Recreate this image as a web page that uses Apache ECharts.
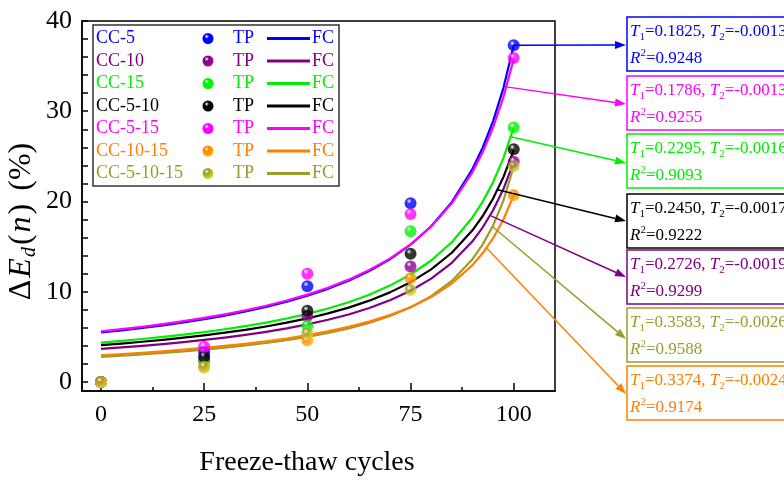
<!DOCTYPE html>
<html>
<head>
<meta charset="utf-8">
<script src="https://cdn.jsdelivr.net/npm/echarts@6/dist/echarts.min.js"></script>
<style>
  html, body { margin: 0; padding: 0; background: #fff; }
  #chart { width: 784px; height: 482px; }
</style>
</head>
<body>
<div id="chart"></div>
<script>
// Mix designs, in legend order
const mixNames  = ['CC-5', 'CC-10', 'CC-15', 'CC-5-10', 'CC-5-15', 'CC-10-15', 'CC-5-10-15'];
const mixColors = ['#0000ff', '#800080', '#00ee00', '#000000', '#ff00ff', '#ff7f00', '#9c9c2a'];

// Test points (TP): freeze-thaw cycles vs. loss of dynamic modulus (%)
const cycles = [0, 25, 50, 75, 100];
const tpCC5       = [0, 3.3, 10.6, 19.8, 37.3];
const tpCC10      = [0, 2.4, 7.3, 12.8, 24.4];
const tpCC15      = [0, 2.2, 6.2, 16.7, 28.2];
const tpCC5_10    = [0, 2.8, 7.9, 14.2, 25.8];
const tpCC5_15    = [0, 3.9, 12.0, 18.6, 35.9];
const tpCC10_15   = [0, 1.6, 4.6, 11.5, 20.7];
const tpCC5_10_15 = [0, 1.7, 5.4, 10.2, 23.9];

// Fitted curves (FC), sampled along the cycle axis
const fcCycles = [0, 5, 10, 15, 20, 25, 30, 35, 40, 45, 50, 55, 60, 65, 70, 75, 80, 85, 90, 92.5, 95, 97.5, 100];
const fcCC5       = [5.48, 5.72, 5.99, 6.28, 6.61, 6.96, 7.36, 7.81, 8.32, 8.89, 9.56, 10.32, 11.23, 12.30, 13.60, 15.21, 17.26, 19.93, 23.60, 25.98, 28.91, 32.57, 37.30];
const fcCC10      = [3.67, 3.83, 4.01, 4.20, 4.42, 4.66, 4.92, 5.22, 5.56, 5.94, 6.38, 6.89, 7.48, 8.19, 9.05, 10.11, 11.45, 13.21, 15.59, 17.14, 19.03, 21.38, 24.40];
const fcCC15      = [4.36, 4.55, 4.76, 4.99, 5.24, 5.53, 5.84, 6.19, 6.58, 7.03, 7.55, 8.14, 8.84, 9.67, 10.68, 11.91, 13.46, 15.49, 18.23, 19.99, 22.14, 24.81, 28.20];
const fcCC5_10    = [4.08, 4.26, 4.46, 4.67, 4.91, 5.17, 5.46, 5.78, 6.15, 6.57, 7.04, 7.60, 8.24, 9.01, 9.93, 11.06, 12.48, 14.32, 16.80, 18.39, 20.32, 22.70, 25.70];
const fcCC5_15    = [5.60, 5.85, 6.11, 6.41, 6.74, 7.10, 7.50, 7.95, 8.45, 9.03, 9.68, 10.45, 11.34, 12.40, 13.67, 15.24, 17.22, 19.79, 23.26, 25.49, 28.20, 31.55, 35.80];
const fcCC10_15   = [2.96, 3.10, 3.24, 3.40, 3.58, 3.77, 3.99, 4.23, 4.51, 4.82, 5.19, 5.61, 6.10, 6.69, 7.41, 8.29, 9.42, 10.91, 12.95, 14.29, 15.93, 18.01, 20.70];
const fcCC5_10_15 = [2.79, 2.92, 3.06, 3.22, 3.39, 3.58, 3.80, 4.04, 4.32, 4.63, 5.00, 5.43, 5.94, 6.55, 7.31, 8.27, 9.51, 11.20, 13.61, 15.25, 17.34, 20.10, 23.90];

// Fit parameters shown in the callout boxes
const fitT1 = ['0.1825', '0.2726', '0.2295', '0.2450', '0.1786', '0.3374', '0.3583'];
const fitT2 = ['-0.0013', '-0.0019', '-0.0016', '-0.0017', '-0.0013', '-0.0024', '-0.0026'];
const fitR2 = ['0.9248', '0.9299', '0.9093', '0.9222', '0.9255', '0.9174', '0.9588'];
// Point on each fitted curve where its callout arrow starts [cycles, value]
const calloutAnchorX = [100, 94.5, 99, 96.1, 98.2, 93.3, 94.9];
const calloutAnchorY = [37.3, 18.4, 27.2, 21.3, 32.7, 14.9, 17.2];

// Axis ticks
const xMajorTicks = [0, 25, 50, 75, 100];
const xMinorTicks = [12.5, 37.5, 62.5, 87.5];
const yLabelValues = [0, 10, 20, 30, 40];
const yTickValues = [0, 2, 4, 6, 8, 10, 12, 14, 16, 18, 20, 22, 24, 26, 28, 30, 32, 34, 36, 38, 40];

const tpSets = [tpCC5, tpCC10, tpCC15, tpCC5_10, tpCC5_15, tpCC10_15, tpCC5_10_15];
const fcSets = [fcCC5, fcCC10, fcCC15, fcCC5_10, fcCC5_15, fcCC10_15, fcCC5_10_15];

const SERIF = '"Liberation Serif", "Times New Roman", serif';

function ballFill(color) {
  return new echarts.graphic.RadialGradient(0.38, 0.32, 0.75, [
    { offset: 0, color: '#ffffff' },
    { offset: 0.28, color: color },
    { offset: 1, color: echarts.color.lift(color, -0.45) }
  ]);
}

const chart = echarts.init(document.getElementById('chart'), null, { renderer: 'canvas' });

const X_MIN = -4.6, X_MAX = 110, Y_MIN = -1, Y_MAX = 40;

// Curve drawing order: olive beneath orange, magenta above blue
const lineOrder = [0, 1, 2, 3, 4, 6, 5];
const series = [];
lineOrder.forEach(function (i) {
  series.push({
    type: 'line',
    name: mixNames[i] + ' FC',
    xAxisIndex: 0, yAxisIndex: 0,
    data: fcCycles.map(function (c, k) { return [c, fcSets[i][k]]; }),
    smooth: false,
    showSymbol: false,
    lineStyle: { color: mixColors[i], width: 2.2, join: 'round' },
    z: 2,
    silent: true
  });
});
mixNames.forEach(function (name, i) {
  series.push({
    type: 'scatter',
    name: name + ' TP',
    xAxisIndex: 0, yAxisIndex: 0,
    data: cycles.map(function (c, k) { return [c, tpSets[i][k]]; }),
    symbol: 'circle',
    symbolSize: 12,
    itemStyle: { color: ballFill(mixColors[i]), borderWidth: 0 },
    z: 5,
    silent: true
  });
});

chart.setOption({
  animation: false,
  backgroundColor: '#ffffff',
  grid: {
    left: 82, right: 229, top: 21, bottom: 91,
    show: true, borderColor: '#000', borderWidth: 1.5, backgroundColor: 'transparent'
  },
  xAxis: [{
    type: 'value', min: X_MIN, max: X_MAX, position: 'bottom',
    axisLine: { show: true, onZero: false, lineStyle: { color: '#000', width: 1.5 } },
    axisTick: { show: true, inside: true, length: 8, customValues: xMajorTicks, lineStyle: { color: '#000', width: 1.5 } },
    axisLabel: { show: true, customValues: xMajorTicks, color: '#000', fontFamily: SERIF, fontSize: 24, margin: 12 },
    splitLine: { show: false },
    name: 'Freeze-thaw cycles', nameLocation: 'middle', nameGap: 58,
    nameTextStyle: { color: '#000', fontFamily: SERIF, fontSize: 28, padding: [0, 23, 0, 0] }
  }, {
    type: 'value', min: X_MIN, max: X_MAX, position: 'bottom',
    axisLine: { show: false, onZero: false },
    axisTick: { show: true, inside: true, length: 4, customValues: xMinorTicks, lineStyle: { color: '#000', width: 1.5 } },
    axisLabel: { show: false },
    splitLine: { show: false }
  }],
  yAxis: [{
    type: 'value', min: Y_MIN, max: Y_MAX, position: 'left',
    axisLine: { show: true, onZero: false, lineStyle: { color: '#000', width: 1.5 } },
    axisTick: { show: true, inside: true, length: 6, customValues: yTickValues, lineStyle: { color: '#000', width: 1.5 } },
    axisLabel: { show: true, customValues: yLabelValues, color: '#000', fontFamily: SERIF, fontSize: 26, margin: 10 },
    splitLine: { show: false }
  }],
  series: series
});

// ---- overlay: y-axis title, legend panel, fit callouts ----
const graphics = [];

graphics.push({
  type: 'text', x: 22, y: 222, rotation: Math.PI / 2,
  style: {
    text: '{a|Δ}{i|E}{s|d}{a|(}{i|n}{a|)}{g|(%)}',
    fill: '#000', align: 'center', verticalAlign: 'middle',
    rich: {
      a: { fontFamily: SERIF, fontSize: 32, lineHeight: 36, verticalAlign: 'middle', padding: [0, 1, 0, 1] },
      g: { fontFamily: SERIF, fontSize: 32, lineHeight: 36, verticalAlign: 'middle', padding: [0, 0, 0, 12] },
      i: { fontFamily: SERIF, fontSize: 32, fontStyle: 'italic', lineHeight: 36, verticalAlign: 'middle', padding: [0, 1, 0, 1] },
      s: { fontFamily: SERIF, fontSize: 20, fontStyle: 'italic', lineHeight: 20, padding: [16, 1, 0, 0], verticalAlign: 'bottom' }
    }
  }
});

// legend panel
const LEG_X = 93, LEG_Y = 25, LEG_W = 246, LEG_H = 161, ROW0 = 38.5, ROW_H = 22.5;
graphics.push({
  type: 'rect', shape: { x: LEG_X, y: LEG_Y, width: LEG_W, height: LEG_H },
  style: { fill: '#fff', stroke: '#333', lineWidth: 1.5 }, z: 20
});
mixNames.forEach(function (name, i) {
  const cy = ROW0 + i * ROW_H;
  const col = mixColors[i];
  const txt = { fontFamily: SERIF, fontSize: 18, fill: col, verticalAlign: 'middle', align: 'left' };
  graphics.push({ type: 'text', x: 96, y: cy, z: 21, style: Object.assign({ text: name }, txt) });
  graphics.push({ type: 'circle', shape: { cx: 208, cy: cy, r: 5.5 }, style: { fill: ballFill(col) }, z: 21 });
  graphics.push({ type: 'text', x: 233, y: cy, z: 21, style: Object.assign({ text: 'TP' }, txt) });
  graphics.push({ type: 'line', shape: { x1: 267, y1: cy, x2: 310, y2: cy }, style: { stroke: col, lineWidth: 3 }, z: 21 });
  graphics.push({ type: 'text', x: 312, y: cy, z: 21, style: Object.assign({ text: 'FC' }, txt) });
});

// callout boxes, listed top to bottom by series index
const boxOrder = [0, 4, 2, 3, 1, 6, 5];
const boxTops = [17, 76, 134, 194, 250, 308, 366];
const arrowEndY = [45, 104, 163, 221, 277, 339, 394];
const BOX_X = 627, BOX_H = 54;

boxOrder.forEach(function (i, k) {
  const col = mixColors[i];
  const top = boxTops[k];
  graphics.push({
    type: 'rect', shape: { x: BOX_X, y: top, width: 200, height: BOX_H },
    style: { fill: '#fff', stroke: col, lineWidth: 1.5 }, z: 20
  });
  const rich = {
    n: { fontFamily: SERIF, fontSize: 17, lineHeight: 22, verticalAlign: 'middle', fill: col },
    i: { fontFamily: SERIF, fontSize: 17, fontStyle: 'italic', lineHeight: 22, verticalAlign: 'middle', fill: col },
    sb: { fontFamily: SERIF, fontSize: 11, lineHeight: 11, padding: [11, 0, 0, 0], verticalAlign: 'bottom', fill: col },
    sp: { fontFamily: SERIF, fontSize: 11, lineHeight: 11, padding: [0, 0, 10, 0], verticalAlign: 'top', fill: col }
  };
  graphics.push({
    type: 'text', x: 630, y: top + 15, z: 21,
    style: {
      text: '{i|T}{sb|1}{n|=' + fitT1[i] + ', }{i|T}{sb|2}{n|=' + fitT2[i] + '}',
      align: 'left', verticalAlign: 'middle', rich: rich
    }
  });
  graphics.push({
    type: 'text', x: 630, y: top + 42, z: 21,
    style: {
      text: '{i|R}{sp|2}{n|=' + fitR2[i] + '}',
      align: 'left', verticalAlign: 'middle', rich: rich
    }
  });

  // arrow from the fitted curve to the box
  const start = chart.convertToPixel({ xAxisIndex: 0, yAxisIndex: 0 }, [calloutAnchorX[i], calloutAnchorY[i]]);
  const ex = BOX_X - 1, ey = arrowEndY[k];
  const dx = ex - start[0], dy = ey - start[1];
  const len = Math.sqrt(dx * dx + dy * dy);
  const ux = dx / len, uy = dy / len;
  const headL = 11, headW = 4;
  const bx = ex - ux * headL, by = ey - uy * headL;
  graphics.push({
    type: 'line', shape: { x1: start[0], y1: start[1], x2: bx, y2: by },
    style: { stroke: col, lineWidth: 1.5 }, z: 19
  });
  graphics.push({
    type: 'polygon',
    shape: { points: [[ex, ey], [bx - uy * headW, by + ux * headW], [bx + uy * headW, by - ux * headW]] },
    style: { fill: col }, z: 19
  });
});

chart.setOption({ graphic: graphics });
</script>
</body>
</html>
